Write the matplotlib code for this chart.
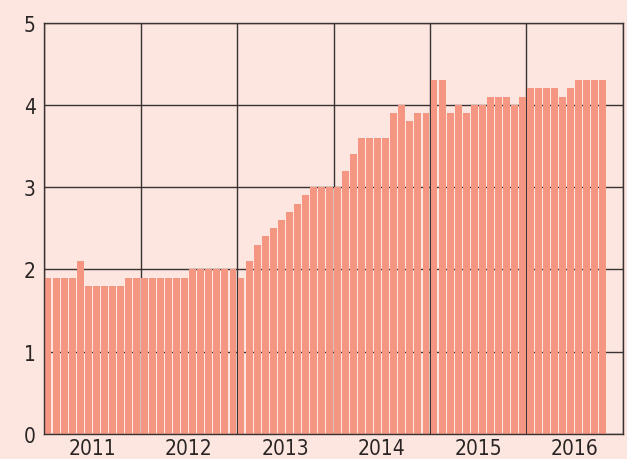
import numpy as np
import matplotlib
matplotlib.use("Agg")
import matplotlib.pyplot as plt

plt.rcParams['font.family'] = ['DejaVu Sans']
plt.rcParams['font.stretch'] = 'condensed'

years = ['2011', '2012', '2013', '2014', '2015', '2016']

# monthly values, Jan 2011 .. Oct 2016
values_2011 = [1.9, 1.9, 1.9, 1.9, 2.1, 1.8, 1.8, 1.8, 1.8, 1.8, 1.9, 1.9]
values_2012 = [1.9, 1.9, 1.9, 1.9, 1.9, 1.9, 2.0, 2.0, 2.0, 2.0, 2.0, 2.0]
values_2013 = [1.9, 2.1, 2.3, 2.4, 2.5, 2.6, 2.7, 2.8, 2.9, 3.0, 3.0, 3.0]
values_2014 = [3.0, 3.2, 3.4, 3.6, 3.6, 3.6, 3.6, 3.9, 4.0, 3.8, 3.9, 3.9]
values_2015 = [4.3, 4.3, 3.9, 4.0, 3.9, 4.0, 4.0, 4.1, 4.1, 4.1, 4.0, 4.1]
values_2016 = [4.2, 4.2, 4.2, 4.2, 4.1, 4.2, 4.3, 4.3, 4.3, 4.3]

values = values_2011 + values_2012 + values_2013 + values_2014 + values_2015 + values_2016

bg = '#fde6df'
bar_color = '#f59682'
line_color = '#3a3333'
text_color = '#2a2525'

fig = plt.figure(figsize=(6.27, 4.6), dpi=100, facecolor=bg)
ax = fig.add_axes([0.0702, 0.0543, 0.9234, 0.8946])
ax.set_facecolor(bg)

x = np.arange(len(values)) + 0.5
ax.bar(x, values, width=0.86, color=bar_color, zorder=2)

ax.set_xlim(0, 12 * len(years))
ax.set_ylim(0, 5)

# year separators and horizontal grid
for b in range(0, 12 * len(years) + 1, 12):
    ax.axvline(b, color=line_color, lw=1, zorder=1)
ax.set_yticks(range(0, 6))
ax.yaxis.grid(True, color=line_color, lw=1, zorder=1)
ax.set_axisbelow(True)

ax.set_xticks([12 * i + 6 for i in range(len(years))])
ax.set_xticklabels(years)
ax.tick_params(axis='both', length=0, labelsize=15, colors=text_color)
ax.tick_params(axis='x', pad=3)
ax.tick_params(axis='y', pad=6)

for s in ax.spines.values():
    s.set_color(line_color)
    s.set_linewidth(1)
    s.set_zorder(3)

fig.savefig('out.png', dpi=100, facecolor=bg)
